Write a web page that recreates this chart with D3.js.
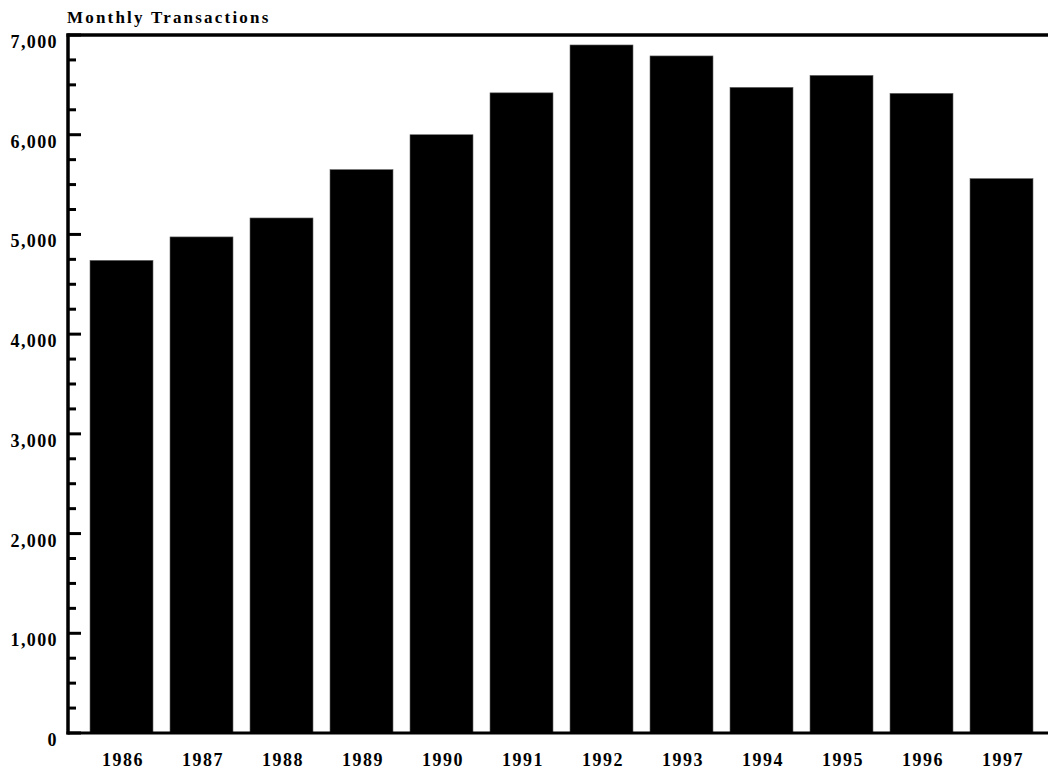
<!DOCTYPE html>
<html>
<head>
<meta charset="utf-8">
<script src="https://cdn.jsdelivr.net/npm/d3@7"></script>
<style>
  html, body { margin: 0; padding: 0; background: #fff; }
  svg { display: block; }
  text { font-family: "Liberation Serif", "Times New Roman", serif; font-weight: bold; fill: #000; }
</style>
</head>
<body>
<svg id="chart" width="1048" height="770"></svg>
<script>
const years = ["1986","1987","1988","1989","1990","1991","1992","1993","1994","1995","1996","1997"];
const transactions = [4740, 4975, 5165, 5650, 6000, 6420, 6900, 6790, 6475, 6595, 6415, 5560];
const yTickValues = [0, 1000, 2000, 3000, 4000, 5000, 6000, 7000];
const yMinorTickValues = d3.range(0, 7001, 250);
const yTitle = "Monthly Transactions";

(function () {
const svg = d3.select("#chart");
const mLeft = 68, mRight = 1048, mTop = 35, mBottom = 733;

const x = d3.scaleBand()
  .domain(years)
  .range([81.5, 1041.5])
  .paddingInner(0.2125)
  .paddingOuter(0.10625);

const y = d3.scaleLinear().domain([0, 7000]).range([mBottom, mTop]);

// bars
svg.append("g").selectAll("rect")
  .data(years.map((yr, i) => ({ yr, v: transactions[i] })))
  .join("rect")
  .attr("x", d => x(d.yr))
  .attr("y", d => y(d.v))
  .attr("width", x.bandwidth())
  .attr("height", d => y(0) - y(d.v))
  .attr("fill", "#000")
  .attr("stroke", "#666")
  .attr("stroke-width", 0.6);

// minor ticks (inside)
svg.append("g").selectAll("line")
  .data(yMinorTickValues.filter(v => v % 1000 !== 0))
  .join("line")
  .attr("x1", mLeft).attr("x2", mLeft + 8)
  .attr("y1", d => y(d)).attr("y2", d => y(d))
  .attr("stroke", "#000").attr("stroke-width", 3);

// major ticks
svg.append("g").selectAll("line")
  .data(yTickValues)
  .join("line")
  .attr("x1", mLeft).attr("x2", mLeft + 13)
  .attr("y1", d => y(d)).attr("y2", d => y(d))
  .attr("stroke", "#000").attr("stroke-width", 3);

// axis frame lines
svg.append("line").attr("x1", mLeft).attr("x2", mLeft).attr("y1", mTop - 1.5).attr("y2", mBottom + 1.5)
  .attr("stroke", "#000").attr("stroke-width", 3.5);
svg.append("line").attr("x1", mLeft - 1.5).attr("x2", mRight).attr("y1", mTop).attr("y2", mTop)
  .attr("stroke", "#000").attr("stroke-width", 3.5);
svg.append("line").attr("x1", mLeft - 1.5).attr("x2", mRight).attr("y1", mBottom).attr("y2", mBottom)
  .attr("stroke", "#000").attr("stroke-width", 3);

// y tick labels
const fmt = d3.format(",");
svg.append("g").selectAll("text")
  .data(yTickValues)
  .join("text")
  .attr("x", 58)
  .attr("y", d => y(d) + 13)
  .attr("text-anchor", "end")
  .style("font-size", "18px")
  .style("letter-spacing", "1.4px")
  .text(d => fmt(d));

// x labels
svg.append("g").selectAll("text")
  .data(years)
  .join("text")
  .attr("x", d => x(d) + x.bandwidth() / 2 + 1.5)
  .attr("y", 766)
  .attr("text-anchor", "middle")
  .style("font-size", "18px")
  .style("letter-spacing", "1.5px")
  .text(d => d);

// title
svg.append("text")
  .attr("x", 67)
  .attr("y", 23)
  .style("font-size", "17px")
  .style("letter-spacing", "2.2px")
  .text(yTitle);
})();
</script>
</body>
</html>
